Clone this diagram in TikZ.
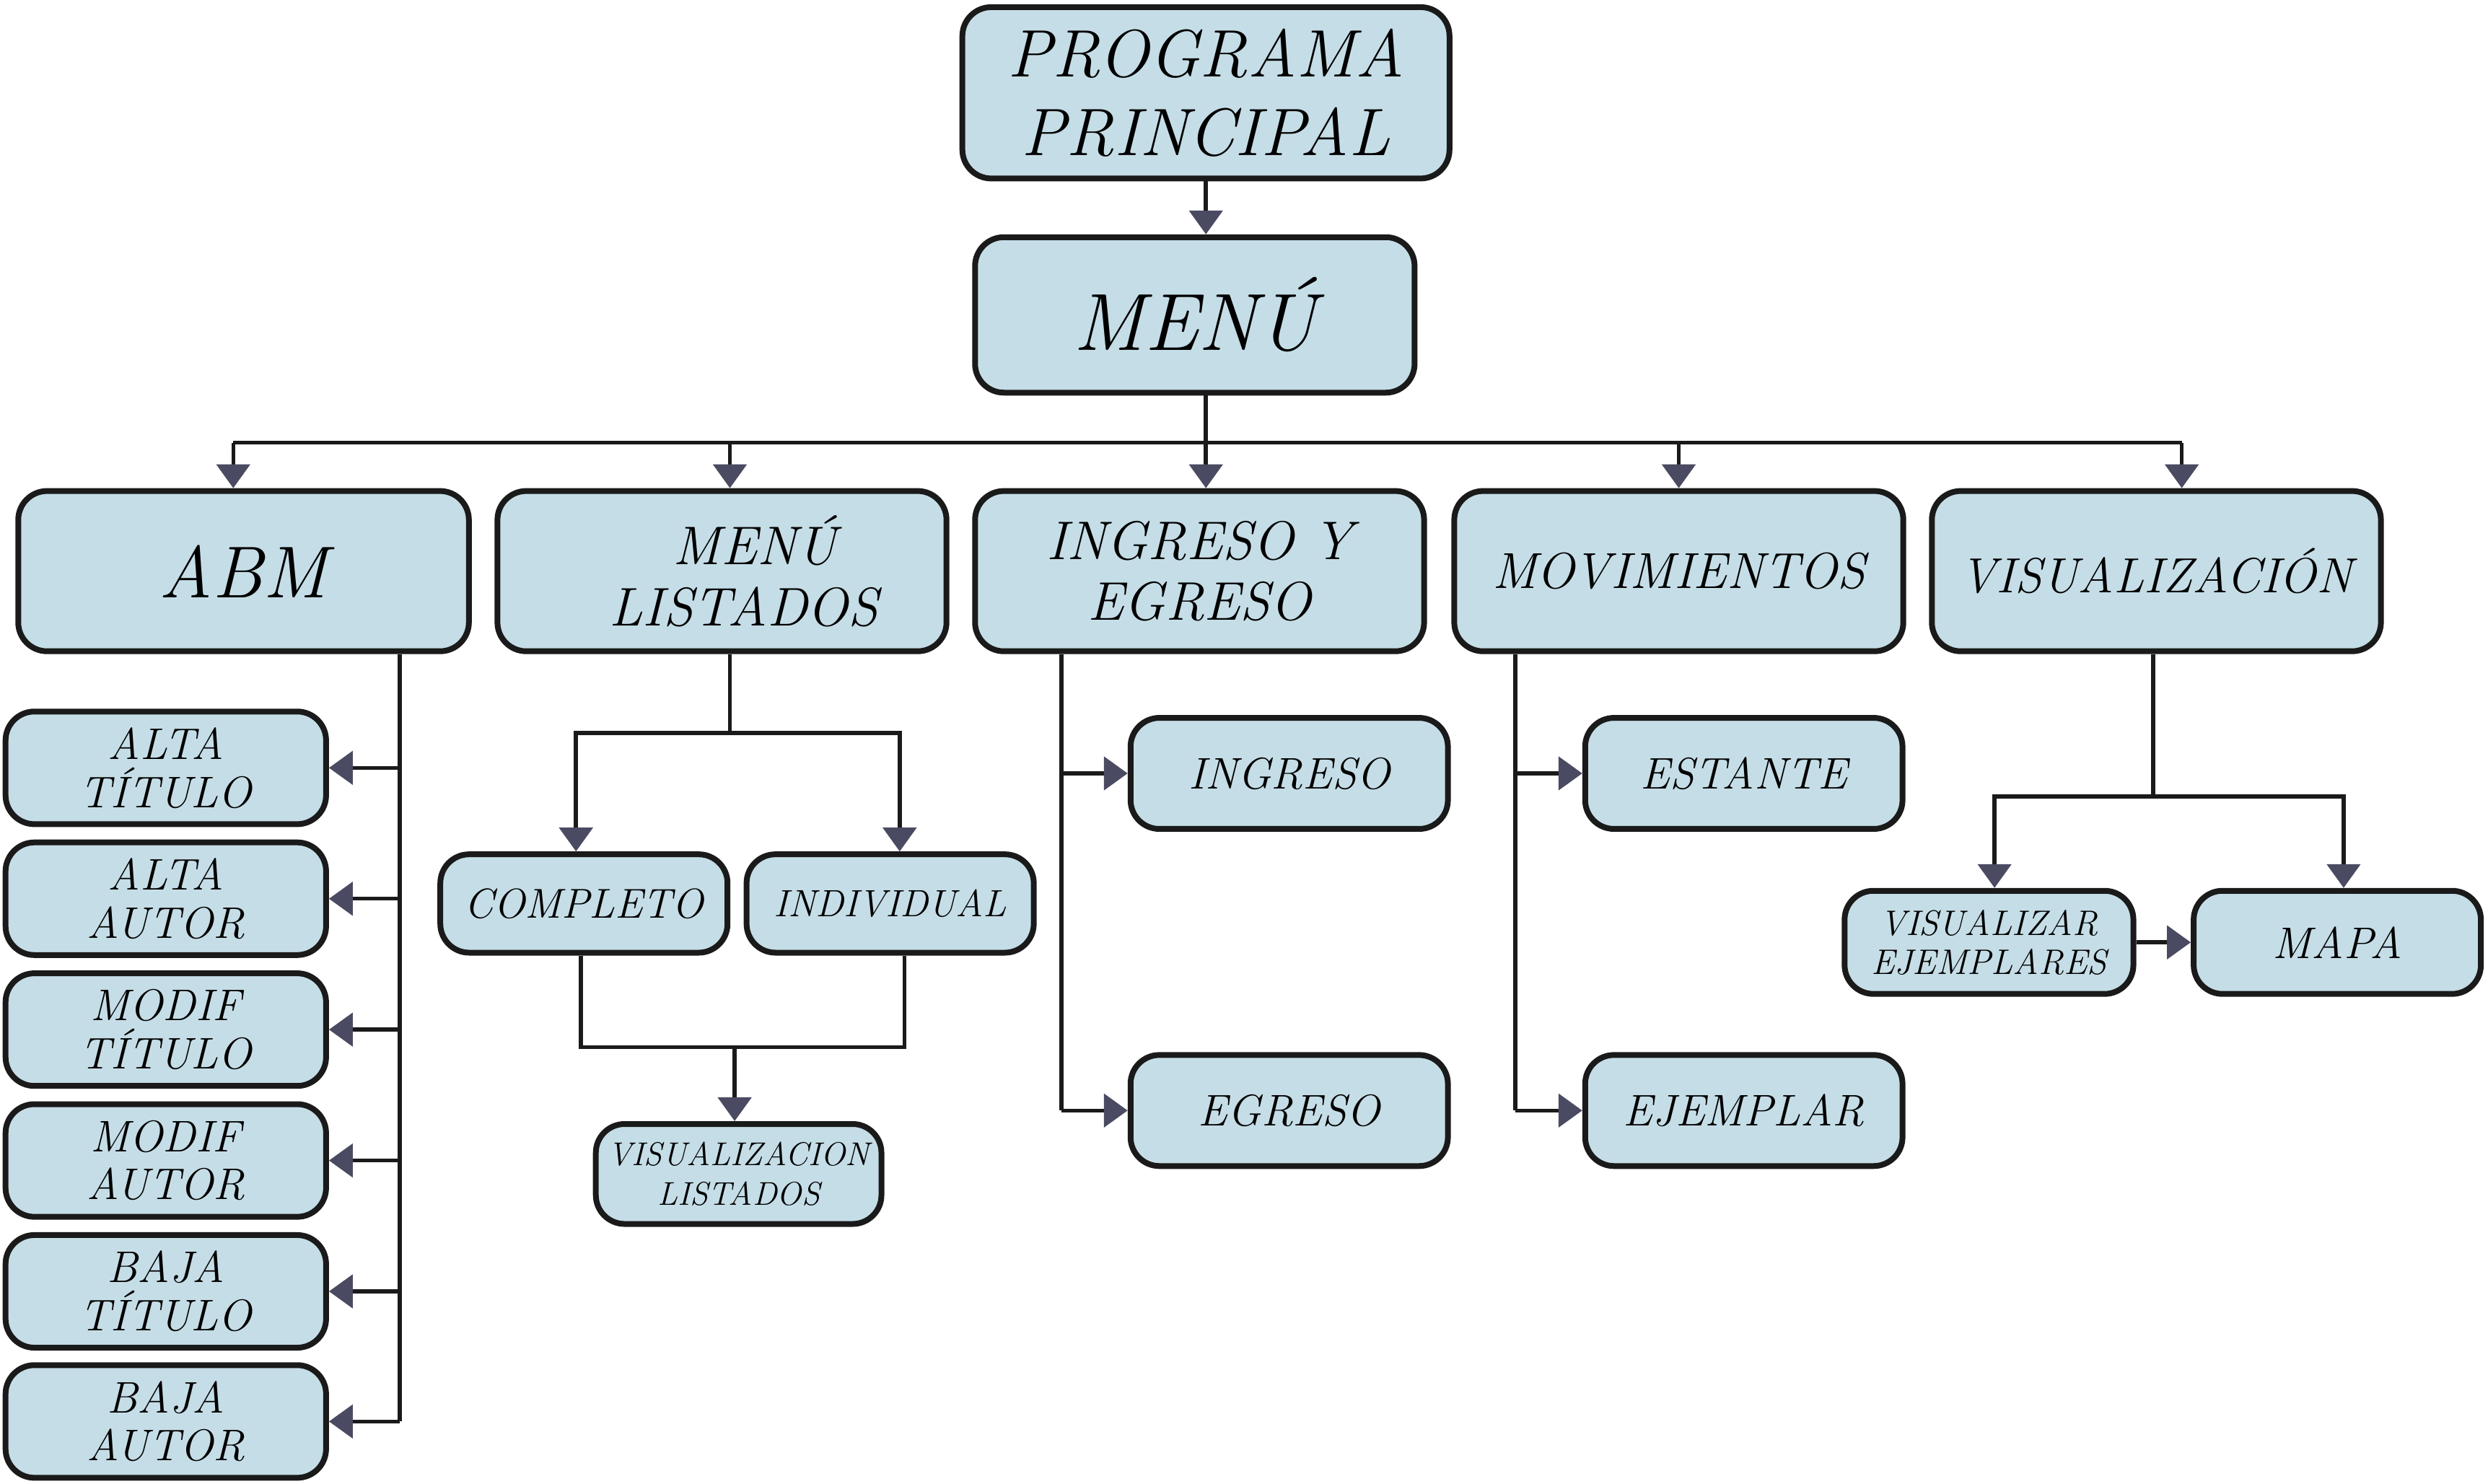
\documentclass[tikz,border=0pt]{standalone}
\usepackage{fontspec}
\usetikzlibrary{arrows.meta,positioning,calc}
\definecolor{BoxFill}{HTML}{C5DDE6}
\definecolor{Tip}{HTML}{4A4A62}
\definecolor{Ink}{HTML}{1A1A1A}
\tikzset{
  box/.style={draw=Ink,fill=BoxFill,line width=.8mm,rounded corners=4mm,align=center,inner sep=1pt},
  sz/.style 2 args={minimum width=#1*.22mm,minimum height=#2*.22mm},
  lbl/.style 2 args={font=\fontsize{#1}{#2}\selectfont\itshape},
  link/.style={draw=Ink,line width=.55mm},
  arr/.style={link,-{Triangle[length=3.3mm,width=4.6mm,color=Tip]}},
}
\begin{document}
\begin{tikzpicture}[x=.22mm,y=-.22mm]
  \fill[white] (0,0) rectangle (1568,935);
  \useasboundingbox (0,0) rectangle (1568,935);

  % top
  \node[box,sz={307}{108},lbl={26.5}{31}] (prog) at (760,58.5) {PROGRAMA\\PRINCIPAL};
  \node[box,sz={277}{98},lbl={32}{36}] (menu) at (753,198.5) {MENÚ};

  % second row
  \node[box,sz={284}{101},lbl={29}{32}] (abm) at (153.5,360) {ABM};
  \node[box,sz={283}{101},lbl={21.5}{24}] (listados) at (455,360) {\hspace*{1.2em}MENÚ\\\hspace*{.8em}LISTADOS};
  \node[box,sz={283}{101},lbl={21.5}{24}] (ingeg) at (756,360) {INGRESO Y\\EGRESO};
  \node[box,sz={283}{101},lbl={20}{24}] (movim) at (1058,360) {MOVIMIENTOS};
  \node[box,sz={283}{101},lbl={19.5}{24}] (visual) at (1359,360) {VISUALIZACIÓN};

  % ABM children
  \foreach \n/\y/\a/\b in {altat/484/ALTA/TÍTULO,altaa/566.5/ALTA/AUTOR,modift/649/MODIF/TÍTULO,
                           modifa/731.5/MODIF/AUTOR,bajat/814/BAJA/TÍTULO,bajaa/896/BAJA/AUTOR}{
    \node[box,sz={202}{71},lbl={17.5}{19}] (\n) at (104.5,\y) {\a\\\b};
  }

  % listados children
  \node[box,sz={181}{62},lbl={16.5}{19}] (compl) at (368,569.5) {COMPLETO};
  \node[box,sz={181}{62},lbl={15}{17}] (indiv) at (561,569.5) {INDIVIDUAL};
  \node[box,sz={180}{63},lbl={13}{15.5}] (vislist) at (465.5,740) {VISUALIZACION\\LISTADOS};

  % ingreso / egreso
  \node[box,sz={200}{70},lbl={17.5}{19}] (ingreso) at (812.5,487.5) {INGRESO};
  \node[box,sz={200}{70},lbl={17.5}{19}] (egreso) at (812.5,700) {EGRESO};

  % movimientos
  \node[box,sz={200}{70},lbl={17.5}{19}] (estante) at (1099,487.5) {ESTANTE};
  \node[box,sz={200}{70},lbl={17.5}{19}] (ejemplar) at (1099,700) {EJEMPLAR};

  % visualizacion
  \node[box,sz={182}{65},lbl={14}{15.5}] (vise) at (1253.5,594) {VISUALIZAR\\EJEMPLARES};
  \node[box,sz={181}{65},lbl={17.5}{19}] (mapa) at (1473,594) {MAPA};

  % connectors
  \coordinate (bus) at (760,279);
  \coordinate (busl) at (147,279);
  \coordinate (busr) at (1375,279);
  \draw[arr] (prog.south) -- (prog.south |- menu.north);
  \draw[link] (menu.south -| bus) -- (bus);
  \draw[link] (busl) -- (busr);
  \foreach \n/\x in {abm/147,listados/460,ingeg/760,movim/1058,visual/1375}
    \draw[arr] (\x,279) -- (\n.north -| \x,279);

  \coordinate (abmbus) at (252,0);
  \draw[link] (abm.south -| abmbus) -- (bajaa.east -| abmbus);
  \foreach \n in {altat,altaa,modift,modifa,bajat,bajaa}
    \draw[arr] (\n.east -| abmbus) -- (\n.east);

  \coordinate (lsplit) at (460,462);
  \coordinate (lmerge) at (463,660);
  \draw[link] (listados.south -| lsplit) -- (lsplit);
  \draw[arr] (lsplit) -| (compl.north -| 363,0);
  \draw[arr] (lsplit) -| (indiv.north -| 567,0);
  \draw[link] (compl.south -| 366,0) |- (lmerge) -| (indiv.south -| 570,0);
  \draw[arr] (lmerge) -- (lmerge |- vislist.north);

  \coordinate (iebus) at (669,0);
  \draw[link] (ingeg.south -| iebus) -- (egreso.west -| iebus);
  \draw[arr] (ingreso.west -| iebus) -- (ingreso.west);
  \draw[arr] (egreso.west -| iebus) -- (egreso.west);

  \coordinate (mvbus) at (955,0);
  \draw[link] (movim.south -| mvbus) -- (ejemplar.west -| mvbus);
  \draw[arr] (estante.west -| mvbus) -- (estante.west);
  \draw[arr] (ejemplar.west -| mvbus) -- (ejemplar.west);

  \coordinate (vsplit) at (1357,502);
  \draw[link] (visual.south -| vsplit) -- (vsplit);
  \draw[arr] (vsplit) -| (vise.north -| 1257,0);
  \draw[arr] (vsplit) -| (mapa.north -| 1477,0);
  \draw[arr] (vise) -- (mapa);
\end{tikzpicture}
\end{document}
